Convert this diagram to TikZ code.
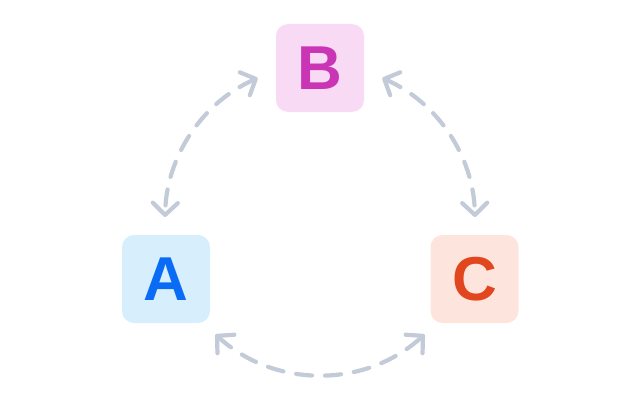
\documentclass[tikz,border=0pt]{standalone}
\usepackage{fontspec}
\setmainfont{Liberation Sans}
\usetikzlibrary{arrows.meta,calc}
\definecolor{conn}{HTML}{C3CAD8}
\definecolor{afill}{HTML}{D7EEFD}
\definecolor{atext}{HTML}{0A6CF5}
\definecolor{bfill}{HTML}{F8DAF5}
\definecolor{btext}{HTML}{C935B5}
\definecolor{cfill}{HTML}{FDE4DD}
\definecolor{ctext}{HTML}{E2461F}
\tikzset{
  box/.style={minimum width=88pt, minimum height=88pt, rounded corners=12pt, inner sep=0pt,
    font=\fontsize{62}{62}\selectfont\bfseries},
  link/.style={draw=conn, line width=4.2pt, line cap=round, dash pattern=on 16pt off 13pt,
    arrows={Straight Barb[length=12pt,width=25pt,round]-Straight Barb[length=12pt,width=25pt,round]}},
}
\begin{document}
\begin{tikzpicture}[x=1pt,y=1pt]
\useasboundingbox (0,0) rectangle (640,400);
\node[box, fill=bfill, text=btext] (B) at (320,332) {B};
\node[box, fill=afill, text=atext] (A) at (166,121) {A};
\node[box, fill=cfill, text=ctext] (C) at (474.5,121) {C};
\coordinate (O) at (320,180);
\coordinate (ba) at ($(O)+(113.7:155)$);
\coordinate (bc) at ($(O)+(66.3:155)$);
\coordinate (ac) at ($(O)+(227.6:155)$);
\draw[link] (ba) arc[start angle=113.7, end angle=178.9, radius=155];
\draw[link] (bc) arc[start angle=66.3, end angle=1.1, radius=155];
\draw[link] (ac) arc[start angle=227.6, end angle=312.4, radius=155];
\end{tikzpicture}
\end{document}
